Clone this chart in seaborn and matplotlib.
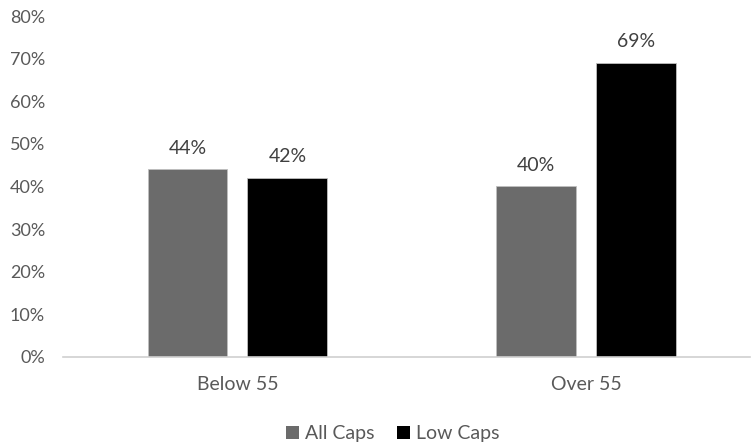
import matplotlib
matplotlib.use("Agg")
import matplotlib.pyplot as plt
import seaborn as sns
import pandas as pd
from matplotlib.patches import Patch

# Share of stocks by market-cap group
groups = ["Below 55", "Over 55"]
series = ["All Caps", "Low Caps"]
all_caps = [0.44, 0.40]
low_caps = [0.42, 0.69]
yticks = [0.0, 0.1, 0.2, 0.3, 0.4, 0.5, 0.6, 0.7, 0.8]

df = pd.DataFrame({
    "group": groups * 2,
    "series": [series[0]] * 2 + [series[1]] * 2,
    "value": all_caps + low_caps,
})

sns.set_theme(style="white")
plt.rcParams["font.family"] = ["Lato", "DejaVu Sans"]

colors = {"All Caps": "#6b6b6b", "Low Caps": "#000000"}
text_color = "#595959"

fig = plt.figure(figsize=(7.51, 4.46), dpi=100)
ax = fig.add_axes([0.084, 0.2, 0.915, 0.764])

sns.barplot(data=df, x="group", y="value", hue="series", order=groups,
            hue_order=series, palette=colors, width=0.573, gap=0.2,
            edgecolor="#bfbfbf", linewidth=0.6, legend=False, ax=ax)

for cont in ax.containers:
    labels = [f"{v * 100:.0f}%" for v in cont.datavalues]
    ax.bar_label(cont, labels=labels, padding=9, fontsize=14, color="#404040")

ax.set_xlim(-0.5, 1.47)
ax.set_ylim(0, 0.8)
ax.set_yticks(yticks)
ax.set_yticklabels([f"{t * 100:.0f}%" for t in yticks], fontsize=13, color=text_color)
ax.tick_params(axis="x", labelsize=14, labelcolor=text_color, pad=14, length=0)
ax.tick_params(axis="y", length=0, pad=13)
ax.set_xlabel("")
ax.set_ylabel("")
for side in ["top", "right", "left"]:
    ax.spines[side].set_visible(False)
ax.spines["bottom"].set_color("#d0d0d0")
ax.spines["bottom"].set_linewidth(1.2)

handles = [Patch(facecolor=colors[s], edgecolor="none") for s in series]
fig.legend(handles, series, loc="lower center", bbox_to_anchor=(0.523, -0.03),
           ncol=2, frameon=False, fontsize=14, labelcolor=text_color,
           handlelength=0.65, handleheight=0.65, handletextpad=0.3, columnspacing=1.2)

fig.savefig("out.png", dpi=100)
